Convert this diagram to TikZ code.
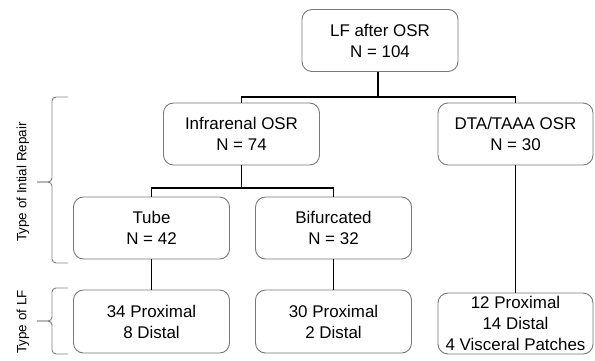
\documentclass[tikz,border=0pt]{standalone}
\usepackage{fontspec}
\setmainfont{Liberation Sans}
\usepackage{xcolor}
\definecolor{boxgray}{RGB}{120, 120, 120}
\definecolor{bracegray}{RGB}{130, 130, 130}

\begin{document}
\begin{tikzpicture}[x=1bp, y=-1bp,
    box/.style={draw=boxgray, line width=0.9bp, rounded corners=10bp,
        minimum width=156bp, minimum height=62bp, inner sep=1bp,
        align=center, font=\fontsize{17}{21}\selectfont},
    link/.style={draw=black, line width=1.5bp},
    brackline/.style={draw=bracegray, line width=0.9bp, rounded corners=4bp},
    sidelabel/.style={rotate=90, font=\fontsize{13.5}{16}\selectfont}]
\useasboundingbox (0,0) rectangle (595,360);

% Boxes
\node[box] (all) at (380,40.5) {LF after OSR\\N = 104};
\node[box] (infra) at (241.5,134) {Infrarenal OSR\\N = 74};
\node[box, minimum width=155bp] (dta) at (515.5,134) {DTA/TAAA OSR\\N = 30};
\node[box] (tube) at (151.5,228) {Tube\\N = 42};
\node[box] (bif) at (333.5,228) {Bifurcated\\N = 32};
\node[box, minimum height=63bp] (tubelf) at (151.5,321.5) {34 Proximal\\8 Distal};
\node[box, minimum height=63bp] (biflf) at (333.5,321.5) {30 Proximal\\2 Distal};
\node[box, minimum width=155bp, minimum height=61bp] (dtalf) at (515.5,323.5) {12 Proximal\\14 Distal\\4 Visceral Patches};

% Connectors
\coordinate (split1) at (378,97);
\coordinate (split2) at (241.5,188);
\draw[link] (all.south -| split1) -- (split1);
\draw[link] (split1) -| (infra.north);
\draw[link] (split1) -| (dta.north);
\draw[link] (infra.south) -- (split2);
\draw[link] (split2) -| (tube.north);
\draw[link] (split2) -| (bif.north);
\draw[link] (tube) -- (tubelf);
\draw[link] (bif) -- (biflf);
\draw[link] (dta) -- (dtalf);

% Brackets on the left
\draw[brackline] (68,97) -- (52,97) -- (52,182) -- (37,182);
\draw[brackline] (37,182) -- (52,182) -- (52,263) -- (68,263);
\draw[brackline] (68,288) -- (52,288) -- (52,321) -- (37,321);
\draw[brackline] (37,321) -- (52,321) -- (52,354) -- (68,354);
\node[sidelabel] (repairlabel) at (23,182) {Type of Intial Repair};
\node[sidelabel] (lflabel) at (23,322) {Type of LF};
\end{tikzpicture}
\end{document}
